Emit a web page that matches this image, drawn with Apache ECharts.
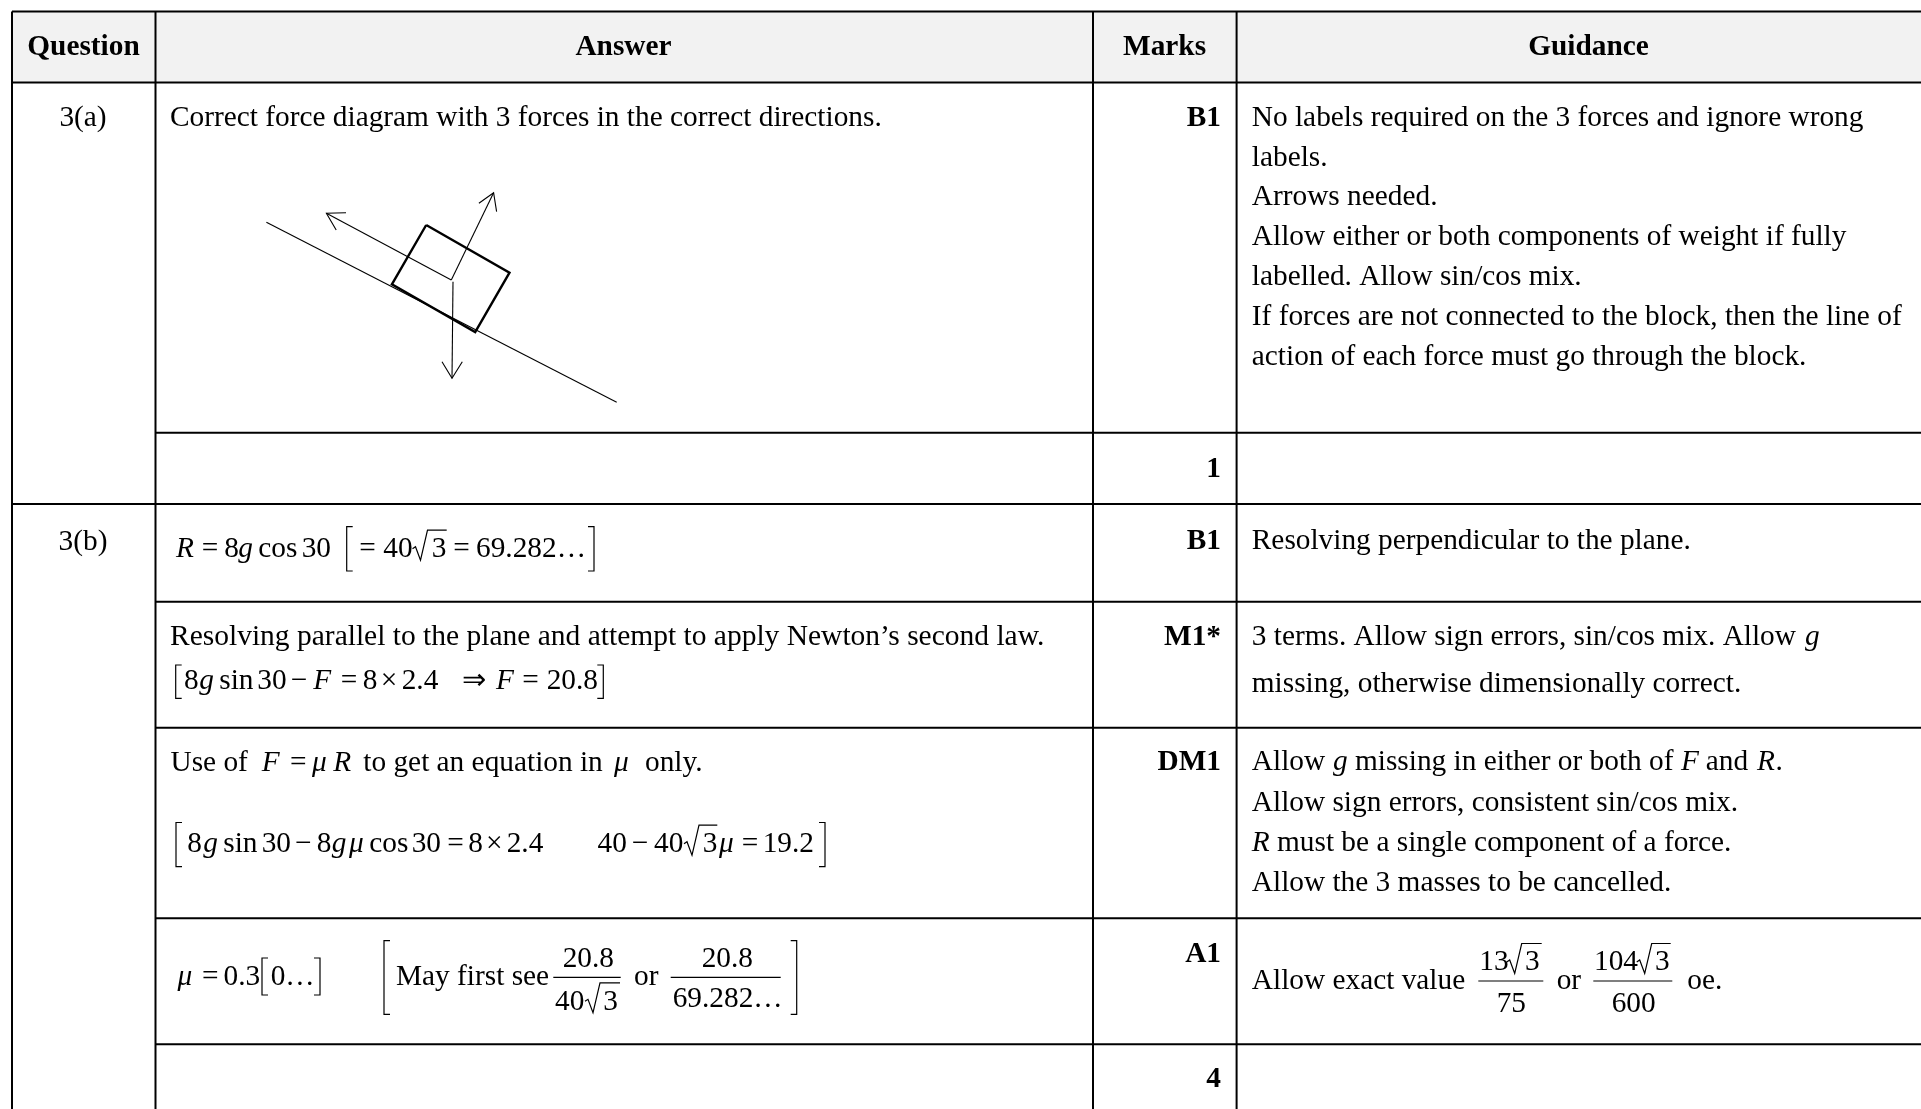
<!DOCTYPE html>
<html><head><meta charset="utf-8">
<style>html,body{margin:0;padding:0;background:#fff}#c{width:1921px;height:1109px}</style>
<script src="https://cdn.jsdelivr.net/npm/echarts@6/dist/echarts.min.js"></script>
</head><body><div id="c"></div>
<script>
var W=1921,H=1109,FS=29.33,INK='#000';
var headerLabels=['Question','Answer','Marks','Guidance'];
var headerCentres=[83.5,623.5,1164.5,1588.5];
var questionLabels=['3(a)','3(b)'];
var questionBaselines=[126,549.3];
var markLabels=['B1','1','B1','M1*','DM1','A1','4'];
var markBaselines=[125.5,476.5,548.5,644.5,770,962,1086.5];
var colEdges=[12,155.5,1093,1236.6];
var rowFull=[11.5,82.5,504];
var rowInner=[432.7,601.7,727.7,918.3,1044.3];
var plainGuidance=[
 ['No labels required on the 3 forces and ignore wrong',125.5],['labels.',166],['Arrows needed.',205],
 ['Allow either or both components of weight if fully',245],['labelled. Allow sin/cos mix.',285],
 ['If forces are not connected to the block, then the line of',325],['action of each force must go through the block.',365],
 ['Resolving perpendicular to the plane.',548.5],['3 terms. Allow sign errors, sin/cos mix. Allow',644.5],
 ['missing, otherwise dimensionally correct.',692],['Allow sign errors, consistent sin/cos mix.',810.5],
 ['Allow the 3 masses to be cancelled.',890.5]];
var guidancePieces=[
 ['g',1805,644.5,'i'],['Allow',1251.8,770,'n'],['g',1333,770,'i'],['missing in either or both of',1355,770,'n'],['F',1681,770,'i'],['and',1705.8,770,'n'],['R',1757,770,'i'],['.',1775.4,770,'n'],
 ['R',1251.8,850.5,'i'],['must be a single component of a force.',1277,850.5,'n'],
 ['Allow exact value',1251.8,989,'n'],['13',1479.3,970,'n'],['3',1525,970,'n'],['75',1496.7,1011.7,'n'],['or',1556.7,989,'n'],['104',1594,970,'n'],['3',1655,970,'n'],['600',1611.7,1011.7,'n'],['oe.',1687.3,989,'n']];
var answerPieces=[
 ['Correct force diagram with 3 forces in the correct directions.',170,126,'n'],
 ['R',176,556.7,'i'],['=',201.7,556.7,'n'],['8',224.3,556.7,'n'],['g',238.3,556.7,'i'],['cos',258.3,556.7,'n'],['30',301.7,556.7,'n'],['=',359.3,556.7,'n'],['40',383.3,556.7,'n'],['3',431.7,556.7,'n'],['=',453.3,556.7,'n'],['69.282…',476,556.7,'n'],
 ['Resolving parallel to the plane and attempt to apply Newton’s second law.',170,644.3,'n',1.0056],
 ['8',184,688.3,'n'],['g',199.3,688.3,'i'],['sin',219.3,688.3,'n'],['30',257.3,688.3,'n'],['−',290.7,688.3,'n'],['F',313.3,688.3,'i'],['=',340.7,688.3,'n'],['8',362.7,688.3,'n'],['×',380.7,688.3,'n'],['2.4',401.7,688.3,'n'],['⇒',462.3,688.3,'n'],['F',496,688.3,'i'],['=',522.3,688.3,'n'],['20.8',546.7,688.3,'n'],
 ['Use of',170.5,770.7,'n'],['F',261.7,770.7,'i'],['=',290,770.7,'n'],['μ',312,770.7,'i'],['R',333.3,770.7,'i'],['to get an equation in',363.3,770.7,'n'],['μ',614,770.7,'i'],['only.',645,770.7,'n'],
 ['8',187.3,851.7,'n'],['g',203.3,851.7,'i'],['sin',223.3,851.7,'n'],['30',261.7,851.7,'n'],['−',295,851.7,'n'],['8',316.7,851.7,'n'],['g',331.7,851.7,'i'],['μ',349,851.7,'i'],['cos',369.3,851.7,'n'],['30',411.7,851.7,'n'],['=',447.3,851.7,'n'],['8',468.3,851.7,'n'],['×',486,851.7,'n'],['2.4',506.7,851.7,'n'],['40',597.5,851.7,'n'],['−',631.7,851.7,'n'],['40',654,851.7,'n'],['3',702.7,851.7,'n'],['μ',719,851.7,'i'],['=',741.7,851.7,'n'],['19.2',762.7,851.7,'n'],
 ['μ',177.6,985,'i'],['=',202,985,'n'],['0.3',223.5,985,'n'],['0…',270.7,985,'n'],['May first see',396,985,'n'],['20.8',562.7,966.7,'n'],['40',555,1009.3,'n'],['3',603.3,1009.3,'n'],['or',634,985,'n'],['20.8',701.7,966.7,'n'],['69.282…',672.7,1006.7,'n']];
var brackets=[[346.7,526.7,571,1],[594,526.7,571,-1],[175.7,665,698.3,1],[603.3,665,698.3,-1],[176,822.5,866.7,1],[825,822.5,866.7,-1],[262,958,995,1],[320,958,995,-1],[384,940.7,1014.3,1],[796.7,940.7,1014.3,-1]];
var fractionBars=[[553.3,620.7,977.3],[670.7,780.7,977.3],[1478.3,1543.3,981],[1593.3,1672.3,981]];
var radicals=[[412.5,446.7,556.7],[684,717.3,851.7],[585,620,1009.3],[1506.7,1541.7,970],[1636.7,1670.7,970]];
var inclineLine=[[266.4,222.3],[616.7,402.3]];
var blockOutline=[[426.2,225],[509.5,272.7],[475.2,332],[391.9,284.3],[426.2,225]];
var forceArrows=[
 [[451.3,280],[326.4,213.3]],[[346,212.7],[326.4,213.3],[336.2,230]],
 [[451.3,280],[493.6,192.7]],[[478.9,203.3],[493.6,192.7],[496.6,211.7]],
 [[453,281.7],[452,378.3]],[[442,361.7],[452,378.3],[462.3,361.7]]];

var polylines=[];
function add(pts,w){polylines.push({pts:pts,w:w});}
rowFull.forEach(function(y){add([[colEdges[0],y],[W,y]],2);});
rowInner.forEach(function(y){add([[colEdges[1],y],[W,y]],2);});
colEdges.forEach(function(x){add([[x,rowFull[0]],[x,H]],2);});
brackets.forEach(function(b){add([[b[0]+6*b[3],b[1]],[b[0],b[1]],[b[0],b[2]],[b[0]+6*b[3],b[2]]],1.2);});
fractionBars.forEach(function(b){add([[b[0],b[2]],[b[1],b[2]]],1.2);});
radicals.forEach(function(r){var x=r[0],e=r[1],b=r[2];add([[x,b-8],[x+3,b-10],[x+8,b+3.4],[x+15,b-26.5],[e,b-26.5]],1.2);});
add(inclineLine,1.1);add(blockOutline,2.4);forceArrows.forEach(function(a){add(a,1.1);});

var texts=[];
function t(s,x,y,st,al,k){texts.push({s:s,x:x,y:y,st:st,al:al||'left',k:k||1});}
headerLabels.forEach(function(s,k){t(s,headerCentres[k],54.5,'b','center');});
questionLabels.forEach(function(s,k){t(s,83,questionBaselines[k],'n','center');});
markLabels.forEach(function(s,k){t(s,1221,markBaselines[k],'b','right');});
plainGuidance.forEach(function(g){t(g[0],1251.8,g[1],'n');});
guidancePieces.concat(answerPieces).forEach(function(p){t(p[0],p[1],p[2],p[3],'left',p[4]);});
var fontOf={n:FS+'px "Liberation Serif"',i:'italic '+FS+'px "Liberation Serif"',b:'bold '+FS+'px "Liberation Serif"'};
var baselineShift=2.5-0.3375*FS;

var chart=echarts.init(document.getElementById('c'),null,{renderer:'canvas'});
chart.setOption({
 animation:false,backgroundColor:'#fff',
 grid:{left:0,right:0,top:0,bottom:0},
 xAxis:{type:'value',min:0,max:W,show:false},
 yAxis:{type:'value',min:0,max:H,inverse:true,show:false},
 series:[
  {type:'custom',name:'header',silent:true,clip:false,data:[[colEdges[0],rowFull[0],W,rowFull[1]]],z:1,
   renderItem:function(p,api){var a=api.coord([api.value(0),api.value(1)]),b=api.coord([api.value(2),api.value(3)]);
    return {type:'rect',shape:{x:a[0],y:a[1],width:b[0]-a[0],height:b[1]-a[1]},style:{fill:'#f2f2f2'}};}},
  {type:'custom',name:'lines',silent:true,clip:false,data:polylines.map(function(_,k){return [k];}),z:2,encode:{x:[],y:[]},
   renderItem:function(p,api){var l=polylines[p.dataIndex];
    return {type:'polyline',shape:{points:l.pts.map(function(q){return api.coord(q);})},style:{stroke:INK,lineWidth:l.w,fill:null,lineJoin:'miter'}};}},
  {type:'custom',name:'text',silent:true,clip:false,data:texts.map(function(_,k){return [k];}),z:3,encode:{x:[],y:[]},
   renderItem:function(p,api){var d=texts[p.dataIndex],c=api.coord([d.x,d.y+baselineShift]);
    return {type:'text',x:c[0],y:c[1],scaleX:d.k,style:{text:d.s,x:0,y:0,font:fontOf[d.st],fill:INK,align:d.al,verticalAlign:'middle'}};}}
 ]});
</script></body></html>
